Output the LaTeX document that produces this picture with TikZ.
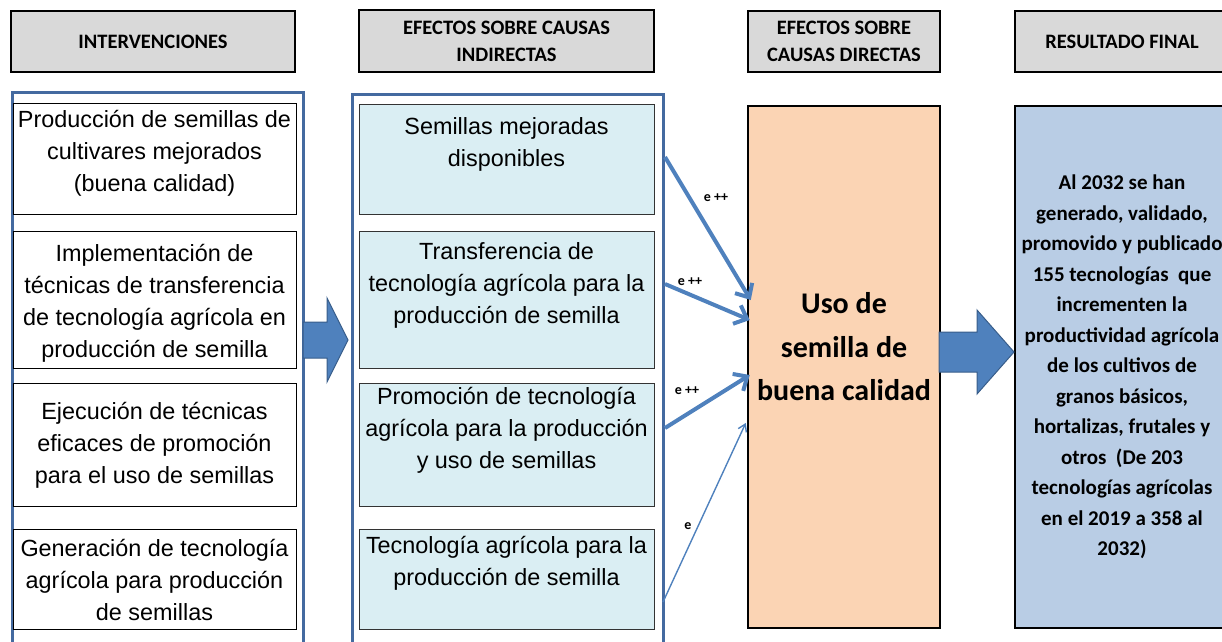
\documentclass[tikz,border=0pt]{standalone}
\usepackage{fontspec}
\setmainfont{Liberation Sans}
\newfontfamily\calibri{Carlito}
\usetikzlibrary{arrows.meta}

\definecolor{headgray}{RGB}{217,217,217}
\definecolor{framecol}{RGB}{68,106,160}
\definecolor{efectofill}{RGB}{218,238,243}
\definecolor{usofill}{RGB}{251,212,180}
\definecolor{resfill}{RGB}{185,205,229}
\definecolor{arrowblue}{RGB}{79,129,189}
\definecolor{arrowedge}{RGB}{56,93,138}

\tikzset{
  head/.style={draw=black, line width=2.5pt, fill=headgray, inner sep=0pt,
    align=center, font=\calibri\bfseries\fontsize{20.5}{27}\selectfont},
  interbox/.style={draw=black, line width=1pt, fill=white, inner sep=0pt,
    minimum width=283pt},
  efectobox/.style={draw=black!80, line width=1pt, fill=efectofill, inner sep=0pt,
    minimum width=295pt},
  boxtext/.style={inner sep=0pt, align=center,
    font=\fontsize{23.4}{32}\selectfont},
  frame/.style={draw=framecol, line width=3pt},
  bigarrow/.style={fill=arrowblue, draw=arrowedge, line width=1pt},
  link/.style={draw=arrowblue, line width=4pt, -{Straight Barb[length=11pt,width=20pt]}},
  thinlink/.style={draw=arrowblue, line width=1.4pt, -{Straight Barb[length=7pt,width=9pt]}},
  effect/.style={inner sep=0pt, font=\calibri\bfseries\fontsize{14}{16}\selectfont}
}

\begin{document}
\begin{tikzpicture}[x=1pt,y=-1pt]
\clip (0,0) rectangle (1222,641);

% Headers
\node[head, minimum width=284pt, minimum height=61pt] (h1) at (153,41.5) {INTERVENCIONES};
\node[head, minimum width=295pt, minimum height=62pt] (h2) at (506.5,41) {EFECTOS SOBRE CAUSAS\\INDIRECTAS};
\node[head, minimum width=192pt, minimum height=61pt] (h3) at (844,41.5) {EFECTOS SOBRE\\CAUSAS DIRECTAS};
\node[head, minimum width=214pt, minimum height=61pt] (h4) at (1122,41.5) {RESULTADO FINAL};

% Column frames (open at the bottom)
\draw[frame] (12,645) -- (12,92) -- (303,92) -- (303,645);
\draw[frame] (352,645) -- (352,94) -- (663,94) -- (663,645);

% Interventions
\node[interbox, minimum height=111pt] (i1) at (154.5,158.5) {};
\node[interbox, minimum height=137pt] (i2) at (154.5,299.5) {};
\node[interbox, minimum height=123pt] (i3) at (154.5,444.5) {};
\node[interbox, minimum height=100pt] (i4) at (154.5,579) {};
\node[boxtext] (i1t) at (154.5,153.5) {Producción de semillas de\\cultivares mejorados\\(buena calidad)};
\node[boxtext] (i2t) at (154.5,303) {Implementación de\\técnicas de transferencia\\de tecnología agrícola en\\producción de semilla};
\node[boxtext] (i3t) at (154.5,445) {Ejecución de técnicas\\eficaces de promoción\\para el uso de semillas};
\node[boxtext] (i4t) at (154.5,580) {Generación de tecnología\\agrícola para producción\\de semillas};

% Indirect effects
\node[efectobox, minimum height=110pt] (e1) at (506.5,159) {};
\node[efectobox, minimum height=137pt] (e2) at (506.5,299.5) {};
\node[efectobox, minimum height=123pt] (e3) at (506.5,444.5) {};
\node[efectobox, minimum height=100pt] (e4) at (506.5,579) {};
\node[boxtext] (e1t) at (506.5,144.5) {Semillas mejoradas\\disponibles};
\node[boxtext] (e2t) at (506.5,285) {Transferencia de\\tecnología agrícola para la\\producción de semilla};
\node[boxtext] (e3t) at (506.5,430) {Promoción de tecnología\\agrícola para la producción\\y uso de semillas};
\node[boxtext] (e4t) at (506.5,563.5) {Tecnología agrícola para la\\producción de semilla};

% Direct effect and final result
\node[draw=black, line width=2.5pt, fill=usofill, minimum width=192pt, minimum height=522pt] (uso) at (844,367) {};
\node[inner sep=0pt, align=center, font=\calibri\bfseries\fontsize{30}{43.5}\selectfont] (usot) at (844,347) {Uso de\\semilla de\\buena calidad};
\node[draw=black, line width=2.5pt, fill=resfill, minimum width=214pt, minimum height=522pt,
  inner sep=0pt, align=center, font=\calibri\bfseries\fontsize{21}{30.5}\selectfont] (res) at (1122,367)
  {Al 2032 se han\\generado, validado,\\promovido y publicado\\155 tecnologías\ \ que\\incrementen la\\productividad agrícola\\de los cultivos de\\granos básicos,\\hortalizas, frutales y\\otros\ \ (De 203\\tecnologías agrícolas\\en el 2019 a 358 al\\2032)};

% Block arrows
\filldraw[bigarrow] (303,322) -- (327,322) -- (327,298) -- (348,340) -- (327,382) -- (327,358) -- (303,358) -- cycle;
\filldraw[bigarrow] (939,332) -- (977,332) -- (977,310) -- (1014,352) -- (977,394) -- (977,372) -- (939,372) -- cycle;

% Effect links
\coordinate (s1) at (665,157);
\coordinate (s2) at (665,284);
\coordinate (s3) at (665,428);
\coordinate (s4) at (663,602);
\draw[link] (s1) -- ([xshift=4pt,yshift=67pt]uso.west);
\draw[link] (s2) -- ([xshift=3pt,yshift=47pt]uso.west);
\draw[link] (s3) -- ([xshift=3pt,yshift=-8pt]uso.west);
\draw[thinlink] (s4) -- ([xshift=-1pt,yshift=-56pt]uso.west);
\node[effect] (l1) at (716,198) {e ++};
\node[effect] (l2) at (690,282) {e ++};
\node[effect] (l3) at (687,391) {e ++};
\node[effect] (l4) at (688,526) {e};
\end{tikzpicture}
\end{document}
